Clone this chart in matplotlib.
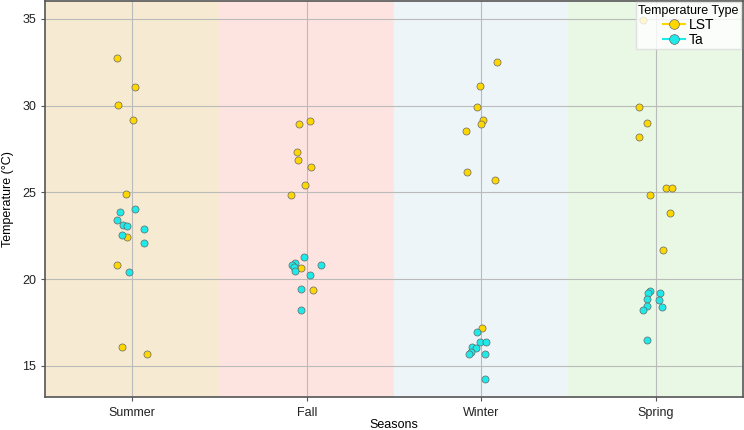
import numpy as np
import matplotlib
matplotlib.use("Agg")
import matplotlib.pyplot as plt
from matplotlib.lines import Line2D

plt.rcParams['font.family'] = ['Liberation Sans', 'DejaVu Sans']

seasons = ["Summer", "Fall", "Winter", "Spring"]
span_colors = ["#F6EBD2", "#FEE4E0", "#EDF5F9", "#E8F8E4"]

# values, with the strip jitter (in category units)
lst = {
    "Summer": [32.74, 31.07, 30.06, 29.18, 24.89, 22.40, 20.82, 16.11, 15.69],
    "Fall":   [29.12, 28.93, 27.30, 26.84, 26.46, 25.40, 24.87, 20.63, 19.37],
    "Winter": [32.51, 31.15, 29.92, 29.16, 28.95, 28.51, 26.15, 25.73, 17.18],
    "Spring": [34.94, 29.94, 28.98, 28.20, 25.27, 25.27, 24.85, 23.83, 21.67],
}
lst_jit = {
    "Summer": [-0.085, 0.013, -0.080, 0.003, -0.036, -0.030, -0.090, -0.058, 0.084],
    "Fall":   [0.016, -0.046, -0.057, -0.052, 0.027, -0.008, -0.090, -0.034, 0.038],
    "Winter": [0.093, -0.004, -0.023, 0.013, 0.000, -0.085, -0.080, 0.078, 0.002],
    "Spring": [-0.070, -0.097, -0.052, -0.095, 0.057, 0.095, -0.035, 0.083, 0.043],
}
ta = {
    "Summer": [23.89, 24.02, 23.43, 23.12, 23.07, 22.87, 22.53, 22.09, 20.40],
    "Fall":   [21.25, 20.90, 20.80, 20.67, 20.46, 20.80, 20.21, 19.43, 18.22],
    "Winter": [16.92, 16.38, 16.38, 16.07, 16.03, 15.82, 15.67, 15.69, 14.23],
    "Spring": [19.31, 19.21, 19.18, 18.85, 18.79, 18.47, 18.37, 18.24, 16.49],
}
ta_jit = {
    "Summer": [-0.070, 0.013, -0.090, -0.055, -0.031, 0.065, -0.059, 0.065, -0.020],
    "Fall":   [-0.015, -0.068, -0.084, -0.071, -0.069, 0.080, 0.017, -0.035, -0.034],
    "Winter": [-0.022, -0.006, 0.030, -0.053, -0.031, -0.057, -0.069, 0.023, 0.024],
    "Spring": [-0.031, 0.024, -0.045, -0.052, 0.022, -0.052, 0.037, -0.073, -0.048],
}

fig = plt.figure(figsize=(7.44, 4.30), dpi=100)
ax = fig.add_axes([0.0605, 0.0767, 0.938, 0.921])

for i, c in enumerate(span_colors):
    ax.axvspan(i - 0.5, i + 0.5, color=c, zorder=0)

for i, s in enumerate(seasons):
    ax.scatter(i + np.array(lst_jit[s]), lst[s], s=26, c="gold",
               edgecolors="#666666", linewidths=0.5, zorder=3)
    ax.scatter(i + np.array(ta_jit[s]), ta[s], s=26, c="#1EEAEA",
               edgecolors="#666666", linewidths=0.5, zorder=3)

ax.set_xlim(-0.5, 3.5)
ax.set_ylim(13.2, 36.03)
ax.set_xticks(range(len(seasons)))
ax.set_xticklabels(seasons)
ax.set_yticks([15, 20, 25, 30, 35])
ax.tick_params(labelsize=9, colors="#222222", length=3, color="#555555")
ax.tick_params(axis="x", pad=4)
ax.grid(True, color="#BBBBBB", linewidth=0.8, zorder=1)
ax.set_axisbelow(True)
for sp in ax.spines.values():
    sp.set_color("#555555")
    sp.set_linewidth(1.2)

ax.set_xlabel("Seasons", fontsize=9, labelpad=0)
ax.set_ylabel("Temperature (°C)", fontsize=9, labelpad=6)

handles = [
    Line2D([0], [0], color="gold", marker="o", markersize=7,
           markeredgecolor="#666666", markeredgewidth=0.5, label="LST"),
    Line2D([0], [0], color="#1EEAEA", marker="o", markersize=7,
           markeredgecolor="#666666", markeredgewidth=0.5, label="Ta"),
]
leg = ax.legend(handles=handles, title="Temperature Type", loc="upper right",
                fontsize=10, title_fontsize=9, borderpad=0.2, labelspacing=0.05,
                handlelength=1.6, handletextpad=0.3, borderaxespad=0.1,
                framealpha=0.8, edgecolor="#DDDDDD", fancybox=False)

fig.savefig("out.png", dpi=100)
